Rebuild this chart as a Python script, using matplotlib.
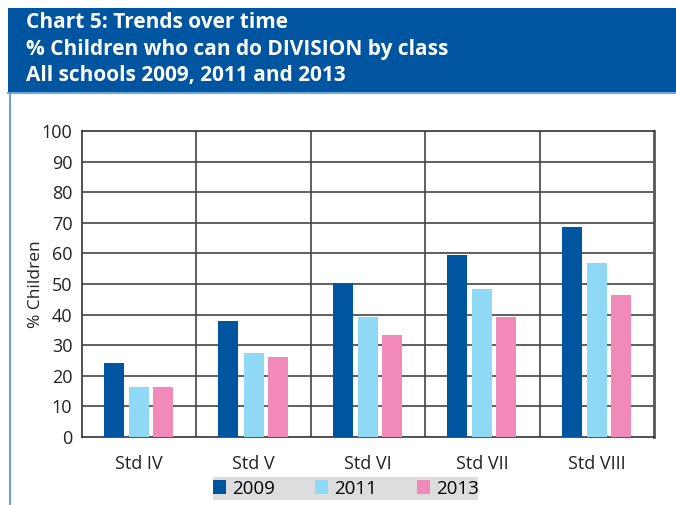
import matplotlib.pyplot as plt
from matplotlib.patches import Rectangle
import numpy as np

plt.rcParams['font.family'] = ['Open Sans', 'DejaVu Sans']

classes = ['Std IV', 'Std V', 'Std VI', 'Std VII', 'Std VIII']
years = ['2009', '2011', '2013']
y2009 = [24.2, 37.9, 50.3, 59.5, 68.6]
y2011 = [16.3, 27.4, 39.2, 48.4, 56.9]
y2013 = [16.3, 26.1, 33.3, 39.2, 46.4]
colors = ['#0055A0', '#8FD8F6', '#F18AB8']

W, H = 676, 505
fig = plt.figure(figsize=(W / 100, H / 100), dpi=100)

# title banner
fig.patches.append(Rectangle((8 / W, 1 - 92 / H), 1, 84 / H, transform=fig.transFigure,
                             facecolor='#0055A0', edgecolor='none'))
fig.add_artist(plt.Line2D([8 / W, 1], [1 - 93 / H, 1 - 93 / H], color='#6FA8DC', lw=1.5))
fig.add_artist(plt.Line2D([10 / W, 10 / W], [0, 1 - 93 / H], color='#4A90D0', lw=1.2))
titles = ['Chart 5: Trends over time',
          '% Children who can do DIVISION by class',
          'All schools 2009, 2011 and 2013']
for i, t in enumerate(titles):
    fig.text(26 / W, 1 - (22 + i * 27) / H, t, color='white', fontsize=15,
             fontweight='bold', va='center', ha='left')

ax = fig.add_axes([82 / W, 68 / H, 572 / W, 306 / H])
x = np.arange(len(classes))
offs = [-0.22, 0.0, 0.21]
for vals, c, o, lab in zip([y2009, y2011, y2013], colors, offs, years):
    ax.bar(x + o, vals, width=0.175, color=c, label=lab, zorder=3)

ax.set_xlim(-0.5, len(classes) - 0.5)
ax.set_ylim(0, 100)
ax.set_yticks(range(0, 101, 10))
ax.set_xticks(x)
ax.set_xticklabels(classes)
ax.tick_params(axis='both', length=0, labelsize=13, colors='#222222', pad=7)
ax.tick_params(axis='x', pad=13)
for k in range(10, 100, 10):
    ax.axhline(k, color='#444444', lw=1.2, zorder=1)
for k in range(1, len(classes)):
    ax.axvline(k - 0.5, color='#444444', lw=1.2, zorder=1)
for s in ax.spines.values():
    s.set_color('#333333')
    s.set_linewidth(1.2)
ax.spines['right'].set_linewidth(2)
ax.spines['right'].set_color('#555555')
ax.set_ylabel('% Children', fontsize=12.5, color='#222222', labelpad=-2)

# legend with grey band behind it
fig.patches.append(Rectangle((213 / W, 1 - 500 / H), 265 / W, 23 / H,
                             transform=fig.transFigure, facecolor='#DCDDDF',
                             edgecolor='none'))
leg = fig.legend(loc='center', bbox_to_anchor=(346 / W, 1 - 488.5 / H), ncol=3,
                 frameon=False, fontsize=13.5, handlelength=0.7, handleheight=0.7,
                 handletextpad=0.35, columnspacing=2.1, borderpad=0.1)

fig.savefig('out.png', dpi=100)
